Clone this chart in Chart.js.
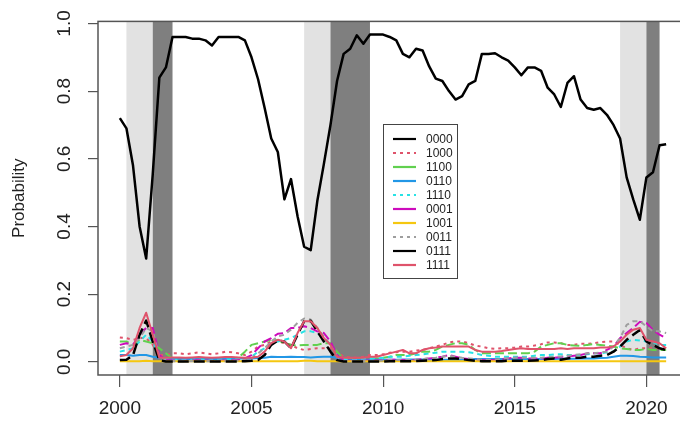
<!DOCTYPE html>
<html>
<head>
<meta charset="utf-8">
<script src="https://cdn.jsdelivr.net/npm/chart.js@4.4.1/dist/chart.umd.min.js"></script>
<style>
  html, body { margin: 0; padding: 0; background: #fff; overflow: hidden; }
  #wrap { width: 690px; height: 422px; }
</style>
</head>
<body>
<div id="wrap"><canvas id="chart" width="690" height="422"></canvas></div>
<script>
// Quartalsdaten 2000Q1 bis 2020Q4
const startYear = 2000;
const quarterCount = 84;
const quarters = Array.from({ length: quarterCount }, (_, i) => startYear + i / 4);

const seriesNames = ['0000', '1000', '1100', '0110', '1110', '0001', '1001', '0011', '0111', '1111'];

const s0000 = [0.72,0.69,0.58,0.40,0.305,0.555,0.84,0.87,
  0.96,0.96,0.96,0.955,0.955,0.95,0.935,0.96,
  0.96,0.96,0.96,0.95,0.90,0.835,0.75,0.66,
  0.62,0.48,0.54,0.43,0.34,0.33,0.475,0.585,
  0.70,0.83,0.91,0.925,0.965,0.94,0.967,0.967,
  0.967,0.96,0.95,0.91,0.90,0.925,0.92,0.873,
  0.837,0.83,0.80,0.775,0.785,0.82,0.83,0.91,
  0.91,0.912,0.90,0.89,0.87,0.847,0.87,0.87,
  0.86,0.81,0.79,0.753,0.824,0.844,0.775,0.75,
  0.745,0.75,0.73,0.70,0.66,0.545,0.48,0.42,
  0.545,0.56,0.64,0.643];

const s1000 = [0.072,0.07,0.065,0.07,0.07,0.05,0.02,0.02,
  0.025,0.025,0.022,0.025,0.028,0.025,0.022,0.025,
  0.03,0.028,0.025,0.02,0.03,0.045,0.05,0.06,
  0.06,0.055,0.05,0.04,0.035,0.038,0.04,0.04,
  0.04,0.03,0.015,0.013,0.012,0.015,0.02,0.02,
  0.022,0.027,0.028,0.03,0.03,0.033,0.035,0.04,
  0.045,0.05,0.057,0.06,0.06,0.055,0.048,0.045,
  0.04,0.038,0.04,0.04,0.042,0.045,0.045,0.048,
  0.052,0.057,0.057,0.055,0.05,0.05,0.053,0.053,
  0.055,0.058,0.06,0.06,0.05,0.04,0.035,0.04,
  0.04,0.042,0.04,0.04];

const s1100 = [0.06,0.06,0.05,0.065,0.06,0.055,0.04,0.025,
  0.01,0.008,0.008,0.01,0.01,0.01,0.008,0.008,
  0.01,0.01,0.012,0.03,0.05,0.055,0.06,0.065,
  0.064,0.055,0.05,0.048,0.05,0.05,0.05,0.055,
  0.055,0.03,0.008,0.008,0.01,0.01,0.01,0.01,
  0.012,0.015,0.02,0.02,0.02,0.025,0.03,0.03,
  0.035,0.045,0.05,0.055,0.055,0.05,0.035,0.025,
  0.025,0.025,0.025,0.025,0.025,0.025,0.025,0.03,
  0.045,0.05,0.055,0.055,0.05,0.048,0.047,0.05,
  0.052,0.05,0.048,0.045,0.04,0.038,0.035,0.035,
  0.038,0.035,0.035,0.035];

const s0110 = [0.02,0.02,0.018,0.02,0.02,0.015,0.012,0.01,
  0.009,0.009,0.008,0.008,0.009,0.009,0.008,0.008,
  0.009,0.009,0.01,0.01,0.01,0.011,0.012,0.015,
  0.014,0.014,0.015,0.014,0.014,0.013,0.014,0.015,
  0.015,0.012,0.006,0.005,0.005,0.005,0.006,0.006,
  0.006,0.006,0.006,0.007,0.007,0.007,0.007,0.006,
  0.006,0.006,0.006,0.006,0.006,0.007,0.008,0.008,
  0.008,0.008,0.008,0.008,0.008,0.008,0.008,0.008,
  0.008,0.008,0.008,0.009,0.009,0.009,0.01,0.01,
  0.01,0.011,0.012,0.015,0.018,0.018,0.017,0.015,
  0.014,0.013,0.013,0.013];

const s1110 = [0.03,0.035,0.04,0.06,0.08,0.06,0.015,0.008,
  0.006,0.006,0.005,0.006,0.007,0.006,0.005,0.006,
  0.007,0.007,0.008,0.01,0.015,0.03,0.04,0.055,
  0.06,0.065,0.07,0.08,0.09,0.09,0.085,0.07,
  0.05,0.02,0.008,0.005,0.005,0.008,0.01,0.01,
  0.012,0.015,0.015,0.015,0.018,0.02,0.022,0.025,
  0.027,0.03,0.03,0.03,0.03,0.028,0.025,0.02,
  0.018,0.015,0.015,0.015,0.015,0.015,0.015,0.018,
  0.02,0.02,0.022,0.022,0.02,0.02,0.02,0.022,
  0.025,0.025,0.028,0.03,0.045,0.06,0.065,0.063,
  0.06,0.058,0.05,0.05];

const s0001 = [0.05,0.055,0.05,0.08,0.1,0.1,0.02,0.005,
  0.004,0.003,0.003,0.004,0.005,0.004,0.003,0.003,
  0.004,0.004,0.005,0.01,0.02,0.04,0.06,0.07,
  0.083,0.085,0.1,0.1,0.105,0.1,0.09,0.085,
  0.06,0.02,0.005,0.003,0.003,0.003,0.004,0.004,
  0.005,0.006,0.006,0.005,0.005,0.006,0.008,0.01,
  0.012,0.015,0.02,0.015,0.01,0.008,0.006,0.005,
  0.005,0.006,0.008,0.01,0.012,0.012,0.01,0.01,
  0.01,0.012,0.012,0.014,0.016,0.018,0.02,0.025,
  0.025,0.025,0.035,0.045,0.07,0.085,0.1,0.118,
  0.115,0.094,0.08,0.07];

const s1001 = [0.002,0.002,0.002,0.002,0.003,0.002,0.002,0.002,
  0.002,0.002,0.002,0.002,0.002,0.002,0.002,0.002,
  0.002,0.002,0.002,0.002,0.002,0.002,0.002,0.002,
  0.002,0.002,0.002,0.002,0.003,0.003,0.002,0.002,
  0.002,0.002,0.002,0.002,0.002,0.002,0.002,0.002,
  0.002,0.002,0.002,0.002,0.002,0.002,0.002,0.002,
  0.002,0.002,0.002,0.002,0.002,0.002,0.002,0.002,
  0.002,0.002,0.002,0.002,0.002,0.002,0.002,0.002,
  0.002,0.002,0.002,0.002,0.002,0.002,0.002,0.002,
  0.002,0.002,0.002,0.002,0.002,0.002,0.002,0.002,
  0.002,0.002,0.002,0.002];

const s0011 = [0.04,0.045,0.05,0.07,0.1,0.09,0.015,0.003,
  0.002,0.002,0.002,0.002,0.003,0.002,0.002,0.002,
  0.002,0.003,0.003,0.006,0.01,0.025,0.04,0.06,
  0.075,0.08,0.095,0.115,0.128,0.125,0.1,0.075,
  0.05,0.015,0.003,0.002,0.002,0.002,0.003,0.003,
  0.004,0.005,0.005,0.005,0.005,0.006,0.008,0.01,
  0.012,0.015,0.018,0.015,0.012,0.01,0.008,0.006,
  0.006,0.007,0.008,0.01,0.012,0.012,0.012,0.012,
  0.012,0.014,0.015,0.016,0.018,0.02,0.022,0.025,
  0.025,0.028,0.03,0.045,0.07,0.109,0.12,0.12,
  0.105,0.09,0.09,0.085];

const s0111 = [0.005,0.006,0.02,0.08,0.122,0.06,0.005,0.001,
  0.001,0.001,0.001,0.001,0.001,0.001,0.001,0.001,
  0.001,0.001,0.001,0.002,0.003,0.005,0.02,0.05,
  0.063,0.06,0.04,0.08,0.12,0.121,0.09,0.06,
  0.03,0.005,0.001,0.001,0.001,0.001,0.001,0.001,
  0.001,0.002,0.002,0.002,0.002,0.002,0.003,0.004,
  0.005,0.008,0.01,0.01,0.008,0.005,0.003,0.002,
  0.002,0.002,0.002,0.003,0.003,0.003,0.003,0.004,
  0.005,0.008,0.01,0.006,0.01,0.012,0.012,0.015,
  0.015,0.018,0.02,0.03,0.045,0.065,0.08,0.094,
  0.06,0.05,0.04,0.035];

const s1111 = [0.016,0.02,0.04,0.1,0.145,0.08,0.012,0.012,
  0.013,0.013,0.012,0.013,0.014,0.013,0.012,0.013,
  0.014,0.014,0.013,0.012,0.012,0.015,0.03,0.055,
  0.065,0.06,0.04,0.085,0.12,0.12,0.1,0.07,
  0.05,0.014,0.012,0.012,0.012,0.012,0.015,0.015,
  0.02,0.025,0.03,0.035,0.025,0.025,0.035,0.04,
  0.042,0.045,0.045,0.045,0.045,0.045,0.035,0.03,
  0.03,0.03,0.032,0.035,0.038,0.04,0.038,0.038,
  0.038,0.038,0.038,0.04,0.038,0.04,0.04,0.04,
  0.04,0.042,0.042,0.045,0.06,0.08,0.095,0.1,
  0.065,0.06,0.055,0.04];

const seriesValues = [s0000, s1000, s1100, s0110, s1110, s0001, s1001, s0011, s0111, s1111];

// Schattierte Zeiträume (hell = Jahr davor, dunkel = Rezession)
const bandFrom = [2000.25, 2001.25, 2007.0, 2008.0, 2019.0, 2020.0];
const bandTo   = [2001.25, 2002.0, 2008.0, 2009.5, 2020.0, 2020.5];
const bandKind = ['pre', 'recession', 'pre', 'recession', 'pre', 'recession'];

const xTickYears = [2000, 2005, 2010, 2015, 2020];
const yTickValues = [0, 0.2, 0.4, 0.6, 0.8, 1.0];

// Stile (R-Palette)
const lineColors = ['#000000', '#DF536B', '#61D04F', '#2297E6', '#28E2E5', '#CD0BBC', '#F5C710', '#9E9E9E', '#000000', '#DF536B'];
const lineDashes = [[], [3, 4], [9, 4], [], [5, 4], [9, 4], [], [5, 4], [11, 5], []];
const legendDashes = [[], [3, 4], [], [], [3, 4], [], [], [3, 4], [], []];
const lineWidths = [2.5, 2, 2, 2, 2, 2, 2, 2, 2.5, 2];

const FONT = "'Liberation Sans', Arial, sans-serif";

const bandsAndBox = {
    id: 'bandsAndBox',
    beforeDatasetsDraw(chart) {
        const { ctx, chartArea: a, scales: { x } } = chart;
        ctx.save();
        ctx.beginPath();
        ctx.rect(a.left, a.top, a.right - a.left, a.bottom - a.top);
        ctx.clip();
        bandFrom.forEach((from, i) => {
            const x0 = x.getPixelForValue(from);
            const x1 = x.getPixelForValue(bandTo[i]);
            ctx.fillStyle = bandKind[i] === 'recession' ? '#7f7f7f' : '#e2e2e2';
            ctx.fillRect(x0, a.top, x1 - x0, a.bottom - a.top);
        });
        ctx.restore();
    },
    afterDraw(chart) {
        const { ctx, chartArea: a } = chart;
        ctx.save();
        // Rahmen um den Plotbereich
        ctx.strokeStyle = '#555';
        ctx.lineWidth = 1.5;
        ctx.strokeRect(a.left, a.top, a.right - a.left, a.bottom - a.top);

        // Legende
        const lx = 383.5, ly = 124.5, lw = 74, lh = 154;
        ctx.fillStyle = '#fff';
        ctx.fillRect(lx, ly, lw, lh);
        ctx.strokeStyle = '#444';
        ctx.lineWidth = 1;
        ctx.strokeRect(lx, ly, lw, lh);
        ctx.font = '12px ' + FONT;
        ctx.textBaseline = 'middle';
        ctx.textAlign = 'left';
        seriesNames.forEach((name, i) => {
            const y = 139 + i * 14;
            ctx.beginPath();
            ctx.setLineDash(legendDashes[i]);
            ctx.strokeStyle = lineColors[i];
            ctx.lineWidth = 2.2;
            ctx.moveTo(393, y);
            ctx.lineTo(416, y);
            ctx.stroke();
            ctx.setLineDash([]);
            ctx.fillStyle = '#222';
            ctx.fillText(name, 426, y + 0.5);
        });
        ctx.restore();
    }
};

const datasets = seriesNames.map((name, i) => ({
    label: name,
    data: quarters.map((q, k) => ({ x: q, y: seriesValues[i][k] })),
    borderColor: lineColors[i],
    borderWidth: lineWidths[i],
    borderDash: lineDashes[i],
    borderJoinStyle: 'round',
    pointRadius: 0,
    fill: false,
    tension: 0,
    order: seriesNames.length - i
}));

new Chart(document.getElementById('chart'), {
    type: 'line',
    data: { datasets },
    options: {
        responsive: false,
        animation: false,
        layout: { padding: { top: 20, right: 2, left: 0, bottom: 0 } },
        plugins: { legend: { display: false }, tooltip: { enabled: false } },
        scales: {
            x: {
                type: 'linear',
                min: 1999.17,
                max: 2021.58,
                afterBuildTicks: s => { s.ticks = xTickYears.map(v => ({ value: v })); },
                afterFit: s => { s.height = 47; },
                border: { display: false },
                grid: { drawOnChartArea: false, drawTicks: true, tickLength: 12, color: '#555', lineWidth: 1.2 },
                ticks: {
                    autoSkip: false, maxRotation: 0, padding: 10, color: '#222',
                    font: { family: FONT, size: 19 },
                    callback: v => String(v)
                }
            },
            y: {
                min: -0.039,
                max: 1.006,
                afterBuildTicks: s => { s.ticks = yTickValues.map(v => ({ value: v })); },
                afterFit: s => { s.width = 98; },
                border: { display: false },
                grid: { drawOnChartArea: false, drawTicks: true, tickLength: 10, color: '#555', lineWidth: 1.2 },
                ticks: {
                    minRotation: 90, maxRotation: 90, crossAlign: 'center', padding: 10, color: '#222',
                    font: { family: FONT, size: 19 },
                    callback: v => v.toFixed(1)
                },
                title: {
                    display: true, text: 'Probability', color: '#222',
                    font: { family: FONT, size: 17 },
                    padding: { top: 9, bottom: 0 }
                }
            }
        }
    },
    plugins: [bandsAndBox]
});
</script>
</body>
</html>
